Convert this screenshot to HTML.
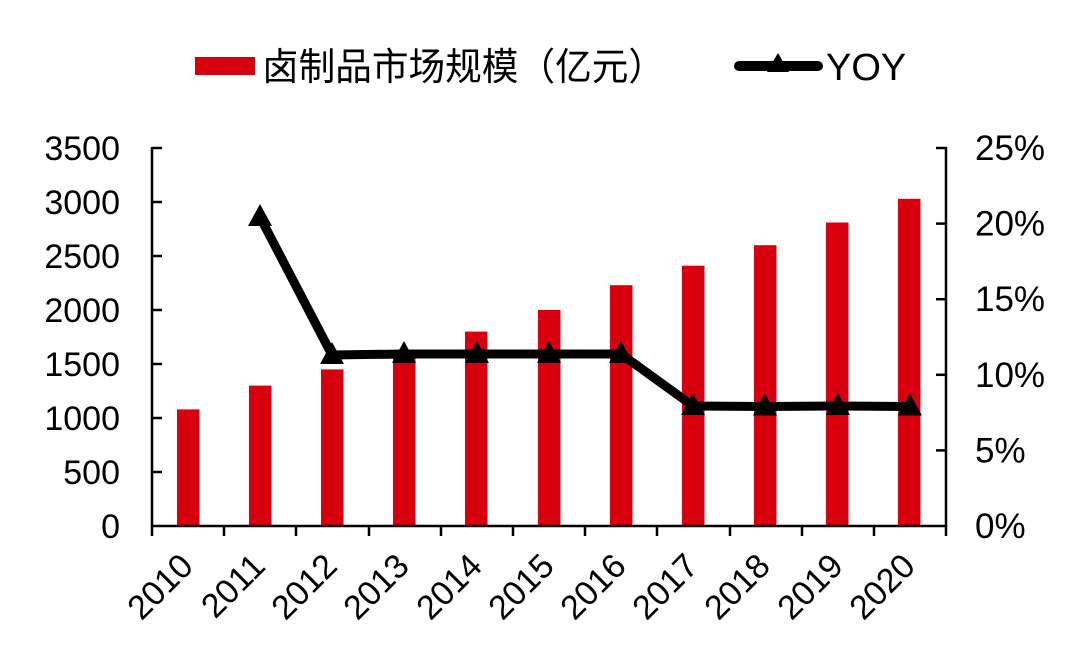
<!DOCTYPE html>
<html><head><meta charset="utf-8"><style>body{margin:0;background:#fff}svg{display:block}</style></head>
<body>
<svg width="1080" height="656" xmlns="http://www.w3.org/2000/svg" font-family="Liberation Sans, Arial, sans-serif">
<rect width="1080" height="656" fill="#fff"/>
<!-- legend -->
<rect x="195" y="57" width="60" height="18" fill="#d7000f"/>
<text x="262" y="80" font-size="38" font-family="Liberation Sans, Noto Sans CJK SC, sans-serif" textLength="403" lengthAdjust="spacingAndGlyphs">卤制品市场规模（亿元）</text>
<line x1="739" y1="66" x2="818" y2="66" stroke="#000" stroke-width="10" stroke-linecap="round"/>
<polygon points="778,53 767,72 789,72" fill="#000"/>
<text x="826" y="80" font-size="38">YOY</text>
<!-- bars -->
<g fill="#d7000f">
<rect x="177" y="409.4" width="22.5" height="116.6"/>
<rect x="249" y="385.6" width="22.5" height="140.4"/>
<rect x="321" y="369.4" width="22.5" height="156.6"/>
<rect x="393" y="357" width="22.5" height="169"/>
<rect x="465" y="331.6" width="22.5" height="194.4"/>
<rect x="538" y="310" width="22.5" height="216"/>
<rect x="610" y="285.2" width="22.5" height="240.8"/>
<rect x="682" y="265.7" width="22.5" height="260.3"/>
<rect x="754" y="245.2" width="22.5" height="280.8"/>
<rect x="826" y="222.5" width="22.5" height="303.5"/>
<rect x="898" y="198.8" width="22.5" height="327.2"/>
</g>
<!-- axes -->
<g stroke="#000" stroke-width="2.5">
<line x1="152" y1="147" x2="152" y2="527"/>
<line x1="946" y1="147" x2="946" y2="527"/>
<line x1="151" y1="526" x2="947" y2="526"/>
<line x1="152" y1="148" x2="162" y2="148"/><line x1="152" y1="202" x2="162" y2="202"/><line x1="152" y1="256" x2="162" y2="256"/><line x1="152" y1="310" x2="162" y2="310"/><line x1="152" y1="364" x2="162" y2="364"/><line x1="152" y1="418" x2="162" y2="418"/><line x1="152" y1="472" x2="162" y2="472"/>
<line x1="936" y1="148" x2="946" y2="148"/><line x1="936" y1="223.6" x2="946" y2="223.6"/><line x1="936" y1="299.2" x2="946" y2="299.2"/><line x1="936" y1="374.8" x2="946" y2="374.8"/><line x1="936" y1="450.4" x2="946" y2="450.4"/>
<line x1="152" y1="526" x2="152" y2="536"/><line x1="224" y1="526" x2="224" y2="536"/><line x1="296" y1="526" x2="296" y2="536"/><line x1="369" y1="526" x2="369" y2="536"/><line x1="441" y1="526" x2="441" y2="536"/><line x1="513" y1="526" x2="513" y2="536"/><line x1="585" y1="526" x2="585" y2="536"/><line x1="657" y1="526" x2="657" y2="536"/><line x1="730" y1="526" x2="730" y2="536"/><line x1="802" y1="526" x2="802" y2="536"/><line x1="874" y1="526" x2="874" y2="536"/><line x1="946" y1="526" x2="946" y2="536"/>
</g>
<!-- left labels -->
<g font-size="34" text-anchor="end">
<text x="120" y="160">3500</text><text x="120" y="214">3000</text><text x="120" y="268">2500</text><text x="120" y="322">2000</text><text x="120" y="376">1500</text><text x="120" y="430">1000</text><text x="120" y="484">500</text><text x="120" y="538">0</text>
</g>
<g font-size="35">
<text x="975" y="160">25%</text><text x="975" y="235.6">20%</text><text x="975" y="311.2">15%</text><text x="975" y="386.8">10%</text><text x="975" y="462.4">5%</text><text x="975" y="538">0%</text>
</g>
<!-- x labels -->
<g font-size="34" text-anchor="end">
<text transform="translate(195,568) rotate(-45)">2010</text>
<text transform="translate(267,568) rotate(-45)">2011</text>
<text transform="translate(339,568) rotate(-45)">2012</text>
<text transform="translate(411,568) rotate(-45)">2013</text>
<text transform="translate(484,568) rotate(-45)">2014</text>
<text transform="translate(556,568) rotate(-45)">2015</text>
<text transform="translate(628,568) rotate(-45)">2016</text>
<text transform="translate(700,568) rotate(-45)">2017</text>
<text transform="translate(772,568) rotate(-45)">2018</text>
<text transform="translate(845,568) rotate(-45)">2019</text>
<text transform="translate(917,568) rotate(-45)">2020</text>
</g>
<!-- line -->
<polyline points="260,217 332,355 404,354 477,354 549,354 621,354 693,406 765,406.5 838,406 910,406.5" fill="none" stroke="#000" stroke-width="9" stroke-linejoin="round" stroke-linecap="round"/>
<g fill="#000">
<polygon points="260,204 248,226 272,226"/>
<polygon points="332,342 320,364 344,364"/>
<polygon points="404,341 392,363 416,363"/>
<polygon points="477,341 465,363 489,363"/>
<polygon points="549,341 537,363 561,363"/>
<polygon points="621,341 609,363 633,363"/>
<polygon points="693,393 681,415 705,415"/>
<polygon points="765,393.5 753,415.5 777,415.5"/>
<polygon points="838,393 826,415 850,415"/>
<polygon points="910,393.5 898,415.5 922,415.5"/>
</g>
</svg>
</body></html>
